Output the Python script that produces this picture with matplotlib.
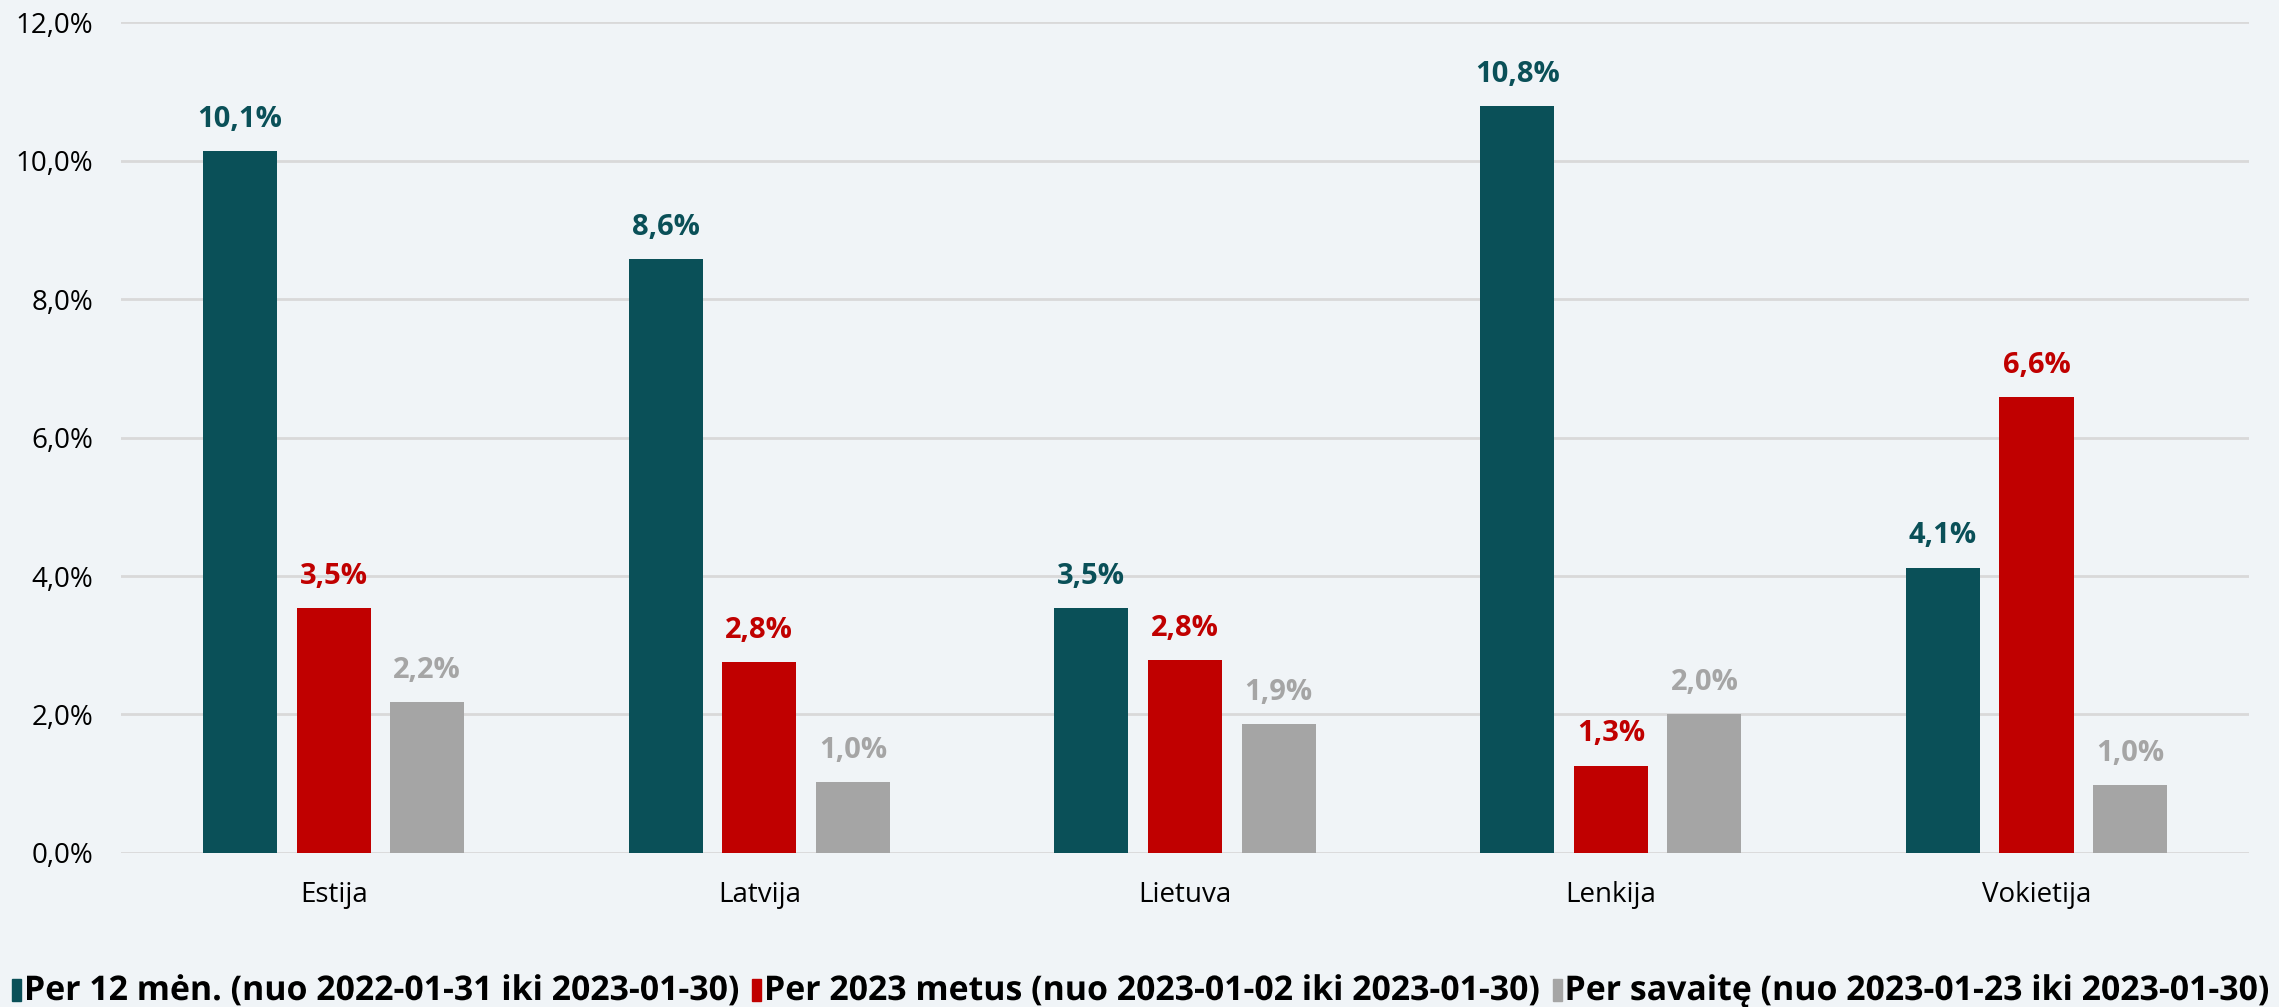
import matplotlib
matplotlib.use("Agg")
import matplotlib.pyplot as plt
import numpy as np
from matplotlib.ticker import FuncFormatter
from matplotlib.textpath import TextPath
from matplotlib.font_manager import FontProperties
from matplotlib.patches import PathPatch, Rectangle
from matplotlib.transforms import Affine2D, IdentityTransform

# data
countries = ["Estija", "Latvija", "Lietuva", "Lenkija", "Vokietija"]
per_12m = [10.14, 8.58, 3.54, 10.79, 4.12]
per_ytd = [3.54, 2.76, 2.78, 1.26, 6.58]
per_week = [2.18, 1.02, 1.86, 2.0, 0.98]
series_names = [
    "Per 12 mėn. (nuo 2022-01-31 iki 2023-01-30)",
    "Per 2023 metus (nuo 2023-01-02 iki 2023-01-30)",
    "Per savaitę (nuo 2023-01-23 iki 2023-01-30)",
]
colors = ["#0A5058", "#C00000", "#A5A5A5"]

bg = "#F0F4F7"
plt.rcParams["font.family"] = ["Open Sans", "DejaVu Sans"]

W, H = 2279, 1007
fig = plt.figure(figsize=(W / 100, H / 100), dpi=100, facecolor=bg)
ax = fig.add_axes([0.053, 0.153, 0.934, 0.825], facecolor=bg)

x = np.arange(len(countries))
w = 0.174
offsets = [-0.22, 0.0, 0.22]
for vals, off, c in zip([per_12m, per_ytd, per_week], offsets, colors):
    ax.bar(x + off, vals, width=w, color=c, zorder=3)
    for xi, v in zip(x + off, vals):
        ax.text(xi, v + 0.25, f"{v:.1f}%".replace(".", ","), ha="center", va="bottom",
                fontsize=21, fontweight="bold", color=c)

ax.set_xlim(-0.5, len(countries) - 0.5)
ax.set_ylim(0, 12)
ax.set_yticks(np.arange(0, 12.1, 2))
ax.yaxis.set_major_formatter(FuncFormatter(lambda v, p: f"{v:.1f}%".replace(".", ",")))
ax.set_xticks(x)
ax.set_xticklabels(countries)
ax.tick_params(axis="both", length=0, labelsize=20, colors="black")
ax.tick_params(axis="x", pad=20)
ax.tick_params(axis="y", pad=20)
ax.grid(axis="y", color="#D9D9D9", linewidth=2, zorder=0)
for s in ax.spines.values():
    s.set_visible(False)

# legend drawn by hand with horizontally condensed bold text (pixel coords)
fp = FontProperties(family="Open Sans", weight="bold")
size_px = 34
paths = [TextPath((0, 0), t, size=size_px, prop=fp) for t in series_names]
nat_w = [p.get_extents().width for p in paths]
sq_w, sq_h, pad_txt, gap = 9, 22, 6, 14
left, right = 12, 2268
sx = (right - left - 3 * (sq_w + pad_txt) - 2 * gap) / sum(nat_w)
base_y = 7
cur = left
for p, nw, c in zip(paths, nat_w, colors):
    fig.patches.append(Rectangle((cur, base_y - 1), sq_w, sq_h, color=c,
                                 transform=IdentityTransform(), figure=fig))
    cur += sq_w + pad_txt
    x0 = p.get_extents().x0
    tr = Affine2D().translate(-x0, 0).scale(sx, 1).translate(cur, base_y)
    fig.patches.append(PathPatch(tr.transform_path(p), color="black", lw=0,
                                 transform=IdentityTransform(), figure=fig))
    cur += nw * sx + gap

fig.savefig("out.png", dpi=100, facecolor=bg)
